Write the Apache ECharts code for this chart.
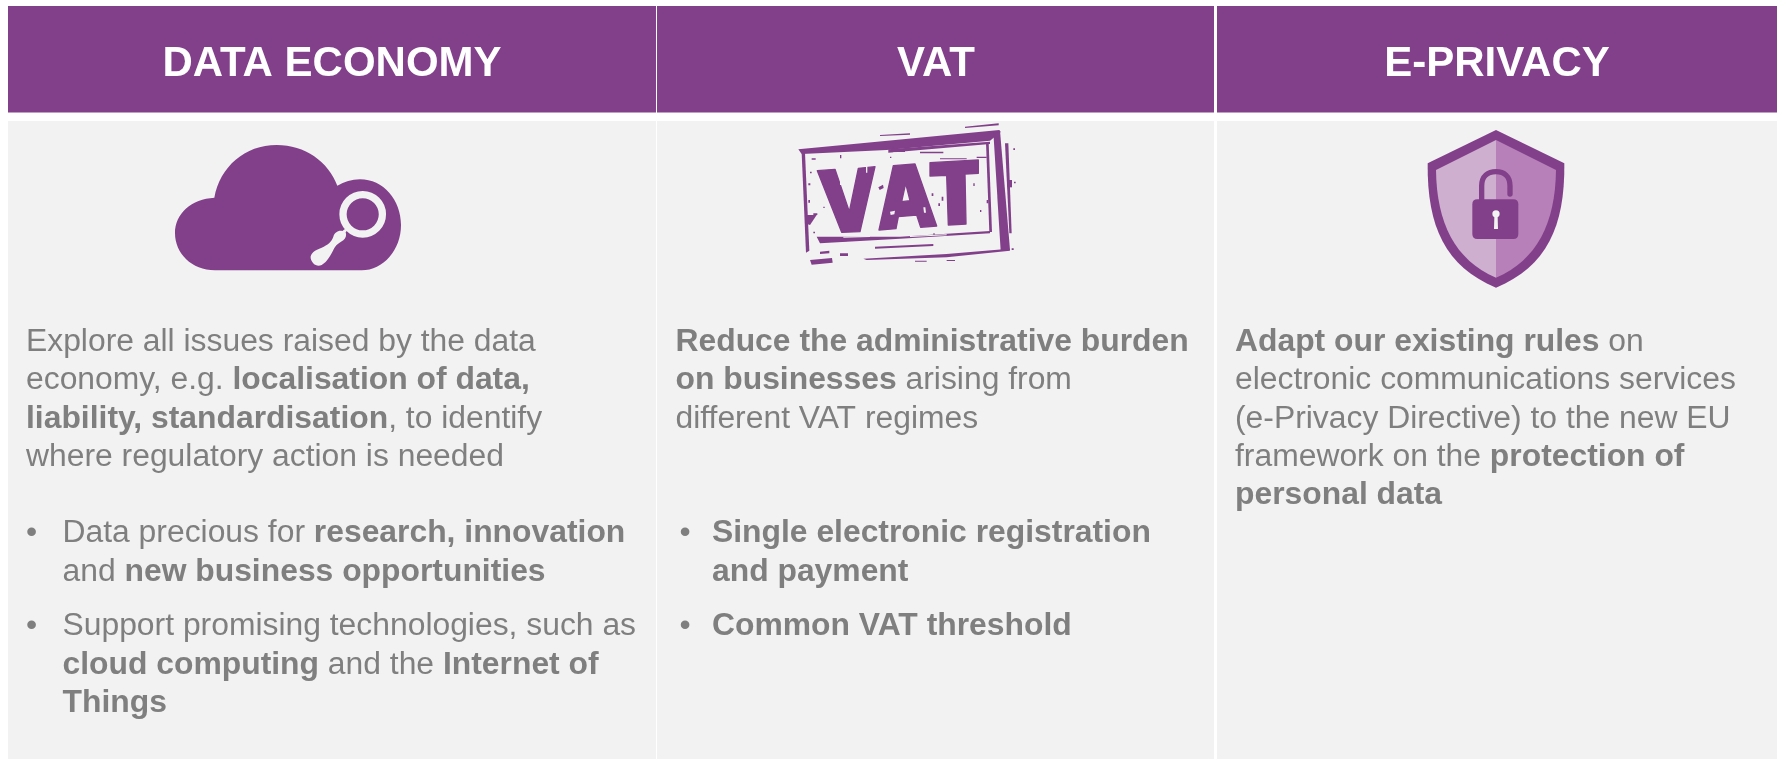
<!DOCTYPE html>
<html>
<head>
<meta charset="utf-8">
<title>Data economy, VAT, e-Privacy</title>
<style>
html, body { margin: 0; padding: 0; background: #fff; }
#main { width: 1777px; height: 759px; }
</style>
<script src="https://cdn.jsdelivr.net/npm/echarts@6/dist/echarts.min.js"></script>
</head>
<body>
<div id="main"></div>
<script>
// column titles
var headers = ['DATA ECONOMY', 'VAT', 'E-PRIVACY'];

// body text, one entry per line. {b|..} is bold, {r|..} regular
var economyIntro = [
    '{r|Explore all issues raised by the data}',
    '{r|economy, e.g. }{b|localisation of data,}',
    '{b|liability, standardisation}{r|, to identify}',
    '{r|where regulatory action is needed}'
];
var economyBullet1 = ['{r|Data precious for }{b|research, innovation}', '{r|and }{b|new business opportunities}'];
var economyBullet2 = ['{r|Support promising technologies, such as}', '{b|cloud computing}{r| and the }{b|Internet of}', '{b|Things}'];

var vatIntro = [
    '{b|Reduce the administrative burden}',
    '{b|on businesses}{r| arising from}',
    '{r|different VAT regimes}'
];
var vatBullet1 = ['{b|Single electronic registration}', '{b|and payment}'];
var vatBullet2 = ['{b|Common VAT threshold}'];

var privacyIntro = [
    '{b|Adapt our existing rules}{r| on}',
    '{r|electronic communications services}',
    '{r|(e-Privacy Directive) to the new EU}',
    '{r|framework on the }{b|protection of}',
    '{b|personal data}'
];

var PURPLE = '#823f8a';
var PANEL = '#f2f2f2';
var GREY = '#7f7f7f';
var FONT = '"Liberation Sans", Arial, sans-serif';
var BODY_SIZE = 31.85;
var LINE_H = 38.4;

var myChart = echarts.init(document.getElementById('main'));
var els = [];
var iconEls = [];

function rect(x, y, w, h, color) {
    els.push({ type: 'rect', shape: { x: x, y: y, width: w, height: h }, style: { fill: color }, silent: true });
}
function addLines(lines, x, y) {
    for (var i = 0; i < lines.length; i++) {
        els.push({
            type: 'text',
            x: x,
            y: y + i * LINE_H,
            style: {
                text: lines[i],
                verticalAlign: 'middle',
                rich: {
                    r: { font: BODY_SIZE + 'px ' + FONT, fill: GREY },
                    b: { font: 'bold ' + BODY_SIZE + 'px ' + FONT, fill: GREY }
                }
            }
        });
    }
}
function addBullet(lines, dotX, x, y) {
    els.push({
        type: 'text', x: dotX, y: y,
        style: { text: '\u2022', font: BODY_SIZE + 'px ' + FONT, fill: GREY, align: 'center', verticalAlign: 'middle' }
    });
    addLines(lines, x, y);
}
// icons are traced in crop coordinates, so place them with a scale of 1/3
function icon(ox, oy, path, fill, stroke, lineWidth) {
    iconEls.push({
        type: 'path',
        x: ox, y: oy, scaleX: 1 / 3, scaleY: 1 / 3,
        shape: { pathData: path },
        style: { fill: fill || 'none', stroke: stroke || 'none', lineWidth: lineWidth || 0, lineCap: 'round', lineJoin: 'round' },
        silent: true
    });
}

// table cells
rect(8, 6, 648, 106.5, PURPLE);
rect(657, 6, 557, 106.5, PURPLE);
rect(1217, 6, 560, 106.5, PURPLE);
rect(8, 121, 648, 638, PANEL);
rect(657, 121, 557, 638, PANEL);
rect(1217, 121, 560, 638, PANEL);

var headerX = [332, 936, 1497];
for (var h = 0; h < headers.length; h++) {
    els.push({
        type: 'text', x: headerX[h], y: 64,
        style: { text: headers[h], font: 'bold 42px ' + FONT, fill: '#fff', align: 'center', verticalAlign: 'middle' }
    });
}

// cloud with magnifier
icon(165, 135, 'M150 406 C80 406 30 355 30 295 C30 235 80 192 148 188 C165 95 240 30 335 30 C420 30 490 80 517 152 C538 140 560 133 585 133 C655 133 708 195 708 270 C708 345 655 406 590 406 Z', PURPLE);
iconEls.push({ type: 'circle', shape: { cx: 362.7, cy: 214.3, r: 19.7 }, style: { fill: 'none', stroke: PANEL, lineWidth: 7.3 }, silent: true });
icon(165, 135, 'M548 284 L542 292 C545 300 543 310 535 316 C522 324 512 330 505 345 C497 360 488 380 470 390 C455 398 440 385 437 370 C435 355 450 345 470 338 C488 330 500 320 505 305 C508 293 520 285 532 288 L540 282 Z', PANEL);

// VAT stamp
var stampFrame = [
    'M115 148 L320 128 L718 90 L722 96 L690 122 L380 150 L125 162 Z',
    'M700 96 L720 92 L750 450 L722 452 Z',
    'M310 476 L560 462 L748 446 L750 452 L560 472 L320 480 Z',
    'M125 160 L135 158 L148 452 L138 458 Z',
    'M170 410 L420 410 L690 393 L690 400 L420 416 L180 430 Z',
    'M678 128 L686 128 L696 396 L688 396 Z',
    'M150 480 L216 474 L218 488 L155 494 Z',
    'M135 345 L170 345 L150 375 L135 370 Z',
    'M385 148 L690 125 L690 132 L385 158 Z',
    'M615 80 L716 70 L716 76 L615 84 Z',
    'M360 105 L450 100 L450 104 L360 108 Z',
    'M345 440 L520 432 L520 438 L345 446 Z',
    'M180 455 L208 452 L208 460 L180 462 Z',
    'M735 130 L745 130 L755 400 L748 400 Z',
    'M742 240 L756 240 L756 262 L742 262 Z'
];
var stampLetters = [
    'M172 212 L225 208 L268 335 L295 205 L345 200 L300 395 L245 397 Z',
    'M400 197 L465 192 L530 378 L482 382 L470 345 L415 350 L408 386 L357 390 Z M425 305 L450 302 L437 250 Z',
    'M510 188 L655 180 L655 220 L615 222 L618 372 L565 375 L560 226 L510 228 Z'
];
for (var f = 0; f < stampFrame.length; f++) icon(760, 100, stampFrame[f], PURPLE);
for (var l = 0; l < stampLetters.length; l++) icon(760, 100, stampLetters[l], PURPLE, PURPLE, 4);
// worn patches on the stamp
var stampWear = 'M318 175 L322 175 L322 218 L318 218 Z M240 232 L244 232 L244 255 L240 255 Z M390 335 L405 332 L403 343 L392 345 Z M490 322 L496 322 L498 338 L492 338 Z M400 155 L430 152 L430 155 L400 158 Z M480 158 L560 150 L560 153 L480 161 Z M250 410 L330 408 L330 411 L250 413 Z M450 408 L560 403 L560 406 L450 411 Z';
icon(760, 100, stampWear, PANEL);
var stampSpecks = 'M150 215 h5 v5 h-5 Z M145 300 h5 v8 h-5 Z M190 320 h4 v4 h-4 Z M240 165 h4 v10 h-4 Z M355 262 l14 -8 l2 10 l-12 6 Z M515 280 h5 v8 h-5 Z M545 290 h5 v12 h-5 Z M640 250 h4 v8 h-4 Z M660 330 h4 v6 h-4 Z M760 145 h5 v5 h-5 Z M762 245 h5 v5 h-5 Z M755 445 h6 v5 h-6 Z M465 482 h35 v3 h-35 Z M560 480 h25 v3 h-25 Z M240 460 h24 v8 h-24 Z M540 175 h80 v3 h-80 Z M390 170 h4 v4 h-4 Z M520 400 h4 v4 h-4 Z M650 170 h30 v4 h-30 Z M160 340 h12 v5 h-12 Z M155 175 h12 v4 h-12 Z M395 150 h40 v6 h-40 Z M480 155 h70 v5 h-70 Z M160 395 h5 v5 h-5 Z M145 250 h6 v6 h-6 Z M680 300 h5 v10 h-5 Z M535 310 h5 v8 h-5 Z M200 420 h60 v4 h-60 Z';
icon(760, 100, stampSpecks, PURPLE);

// shield with padlock
icon(1400, 110, 'M288 60 L493 160 C495 350 440 470 288 533 C136 470 81 350 83 160 Z', PURPLE);
icon(1400, 110, 'M288 90 L108 180 C110 340 165 450 288 503 Z', '#cfafd0');
icon(1400, 110, 'M288 90 L468 180 C466 340 411 450 288 503 Z', '#b880b8');
icon(1400, 110, 'M245 270 L245 228 C245 198 265 185 288 185 C312 185 330 198 330 228 L330 252', null, PURPLE, 16);
icon(1400, 110, 'M232 268 L340 268 Q355 268 355 283 L355 372 Q355 387 340 387 L232 387 Q217 387 217 372 L217 283 Q217 268 232 268 Z', PURPLE);
icon(1400, 110, 'M277 312 A11 11 0 1 1 299 312 A11 11 0 0 1 293 322 L294 357 L282 357 L283 322 A11 11 0 0 1 277 312 Z', PANEL);

// column 1
addLines(economyIntro, 26, 342);
addBullet(economyBullet1, 31.5, 62.5, 533.5);
addBullet(economyBullet2, 31.5, 62.5, 626.5);
// column 2
addLines(vatIntro, 675.5, 342);
addBullet(vatBullet1, 685, 712, 533.5);
addBullet(vatBullet2, 685, 712, 626.5);
// column 3
addLines(privacyIntro, 1235, 342);

myChart.setOption({
    animation: false,
    backgroundColor: '#fff',
    graphic: { elements: els },
    series: [{
        type: 'custom',
        coordinateSystem: 'none',
        data: [0],
        silent: true,
        renderItem: function () {
            return { type: 'group', children: iconEls };
        }
    }]
});
</script>
</body>
</html>
